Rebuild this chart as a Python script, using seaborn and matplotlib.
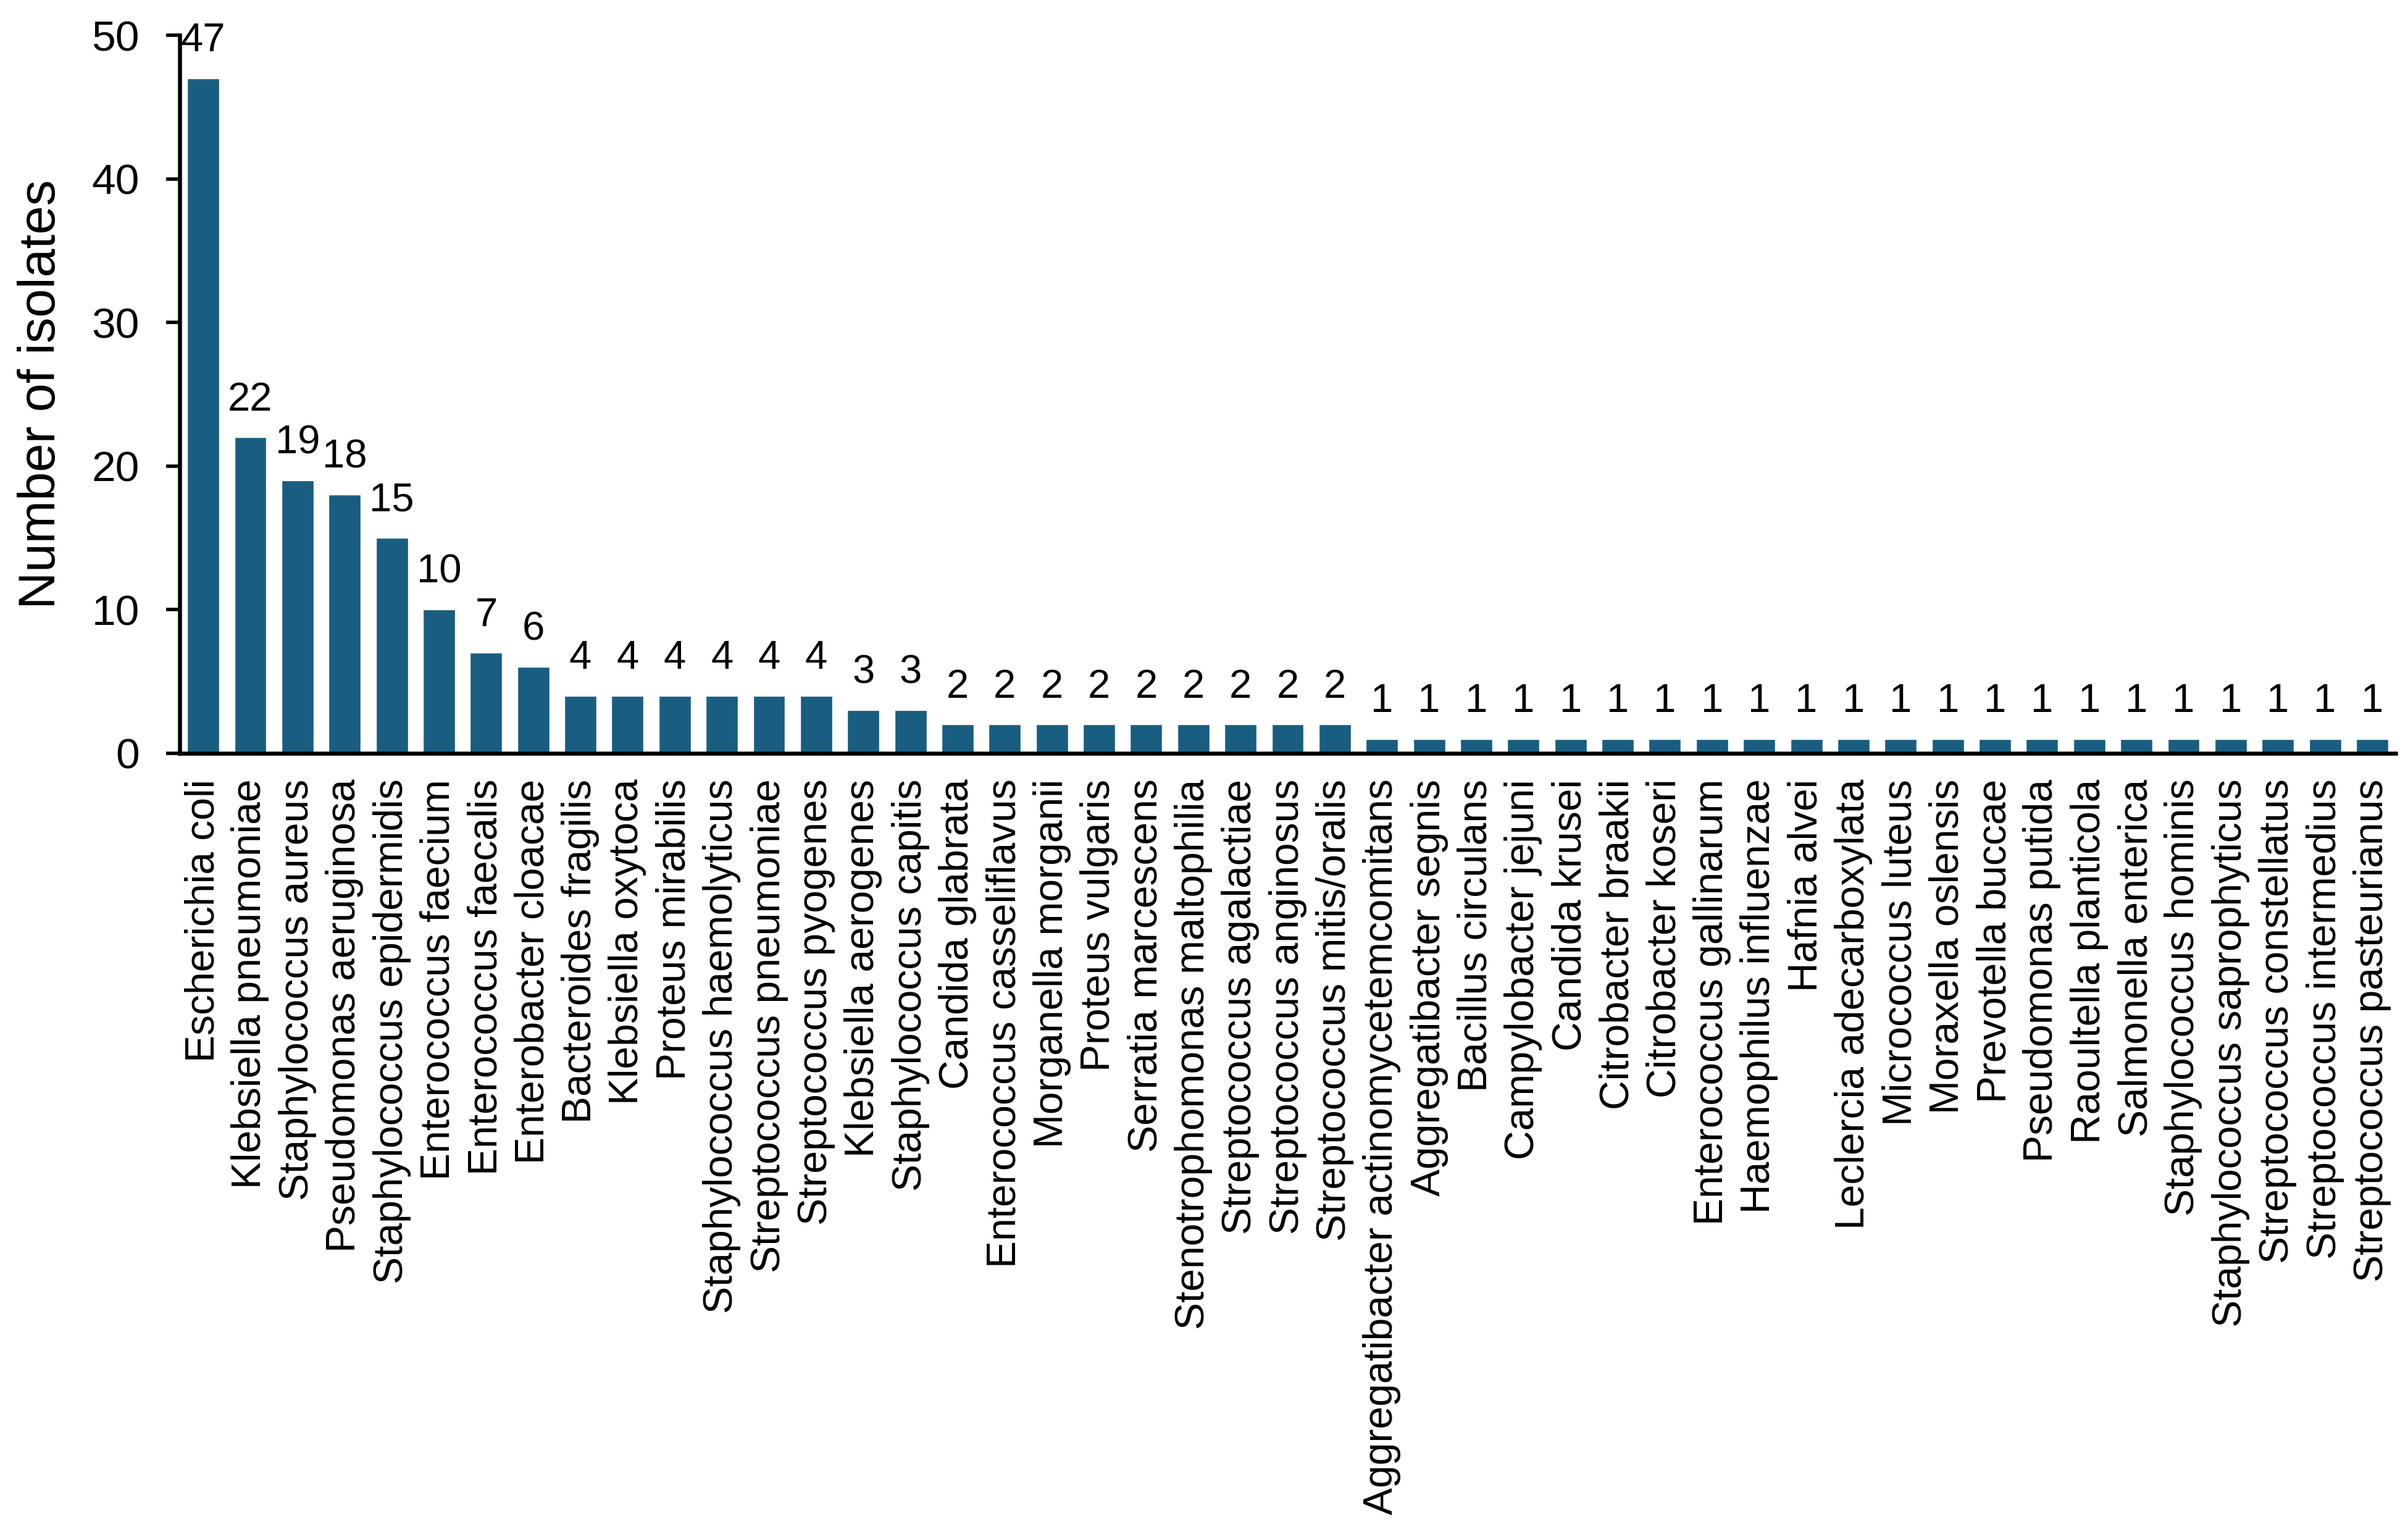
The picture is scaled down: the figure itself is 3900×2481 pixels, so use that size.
import matplotlib
matplotlib.use("Agg")
import matplotlib.pyplot as plt
import seaborn as sns
import pandas as pd

species = [
    "Escherichia coli", "Klebsiella pneumoniae", "Staphylococcus aureus",
    "Pseudomonas aeruginosa", "Staphylococcus epidermidis", "Enterococcus faecium",
    "Enterococcus faecalis", "Enterobacter cloacae", "Bacteroides fragilis",
    "Klebsiella oxytoca", "Proteus mirabilis", "Staphylococcus haemolyticus",
    "Streptococcus pneumoniae", "Streptococcus pyogenes", "Klebsiella aerogenes",
    "Staphylococcus capitis", "Candida glabrata", "Enterococcus casseliflavus",
    "Morganella morganii", "Proteus vulgaris", "Serratia marcescens",
    "Stenotrophomonas maltophilia", "Streptococcus agalactiae", "Streptococcus anginosus",
    "Streptococcus mitis/oralis", "Aggregatibacter actinomycetemcomitans",
    "Aggregatibacter segnis", "Bacillus circulans", "Campylobacter jejuni",
    "Candida krusei", "Citrobacter braakii", "Citrobacter koseri",
    "Enterococcus gallinarum", "Haemophilus influenzae", "Hafnia alvei",
    "Leclercia adecarboxylata", "Micrococcus luteus", "Moraxella oslensis",
    "Prevotella buccae", "Pseudomonas putida", "Raoultella planticola",
    "Salmonella enterica", "Staphylococcus hominis", "Staphylococcus saprophyticus",
    "Streptococcus constellatus", "Streptococcus intermedius", "Streptococcus pasteurianus",
]
counts = [47, 22, 19, 18, 15, 10, 7, 6, 4, 4, 4, 4, 4, 4, 3, 3,
          2, 2, 2, 2, 2, 2, 2, 2, 2,
          1, 1, 1, 1, 1, 1, 1, 1, 1, 1, 1, 1, 1, 1, 1, 1, 1, 1, 1, 1, 1, 1]
y_ticks = [0, 10, 20, 30, 40, 50]
y_label = "Number of isolates"

sns.set_style("ticks")
plt.rcParams["font.family"] = ["Liberation Sans", "DejaVu Sans"]

df = pd.DataFrame({"species": species, "count": counts})

fig = plt.figure(figsize=(39, 24.81), dpi=100)
ax = fig.add_axes([0.0746, 0.5083, 0.9949 - 0.0746, 0.977 - 0.5083])

sns.barplot(data=df, x="species", y="count", color="#195E80", width=0.68,
            saturation=1, ax=ax)

ax.bar_label(ax.containers[0], labels=[str(v) for v in counts],
             padding=22, fontsize=47, color="black")

ax.set_xlim(-0.5, len(species) - 0.5)
ax.set_ylim(0, 50)
ax.set_yticks(y_ticks)
ax.set_xlabel("")
ax.set_ylabel(y_label, fontsize=60, labelpad=30, color="black")

for s in ["top", "right"]:
    ax.spines[s].set_visible(False)
for s in ["left", "bottom"]:
    ax.spines[s].set_linewidth(4.7)
    ax.spines[s].set_color("black")

ax.tick_params(axis="y", left=True, length=16, width=4.0, pad=31, labelsize=50,
               direction="out", color="black", labelcolor="black")
ax.tick_params(axis="x", bottom=False, length=0, pad=30, labelsize=47.5,
               labelrotation=90, labelcolor="black")

fig.savefig("out.png", dpi=100, facecolor="white")
